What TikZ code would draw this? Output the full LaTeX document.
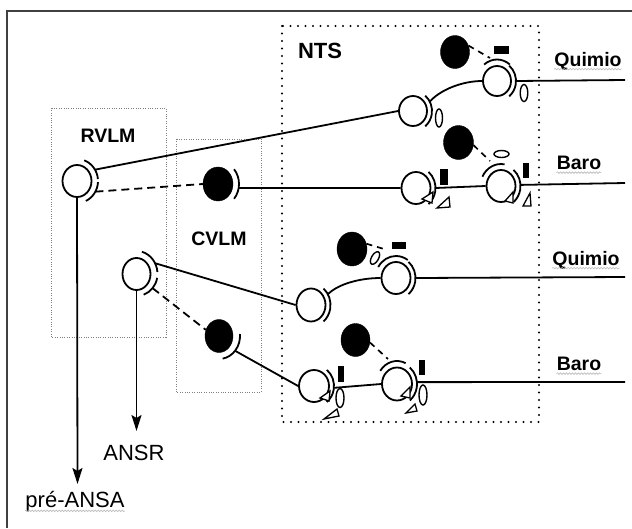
\documentclass[tikz,border=0pt]{standalone}
\usepackage{fontspec}
\setmainfont{Liberation Sans}
\usetikzlibrary{shapes.geometric,arrows.meta,decorations.pathmorphing}
\begin{document}
\begin{tikzpicture}[x=1pt,y=-1pt,
  ln/.style={line width=1.8pt},
  dln/.style={line width=1.8pt,dash pattern=on 8pt off 5pt},
  sdln/.style={line width=1.7pt,dash pattern=on 6pt off 5pt},
  openn/.style={ellipse,draw,line width=1.8pt,fill=white,inner sep=0pt},
  blackn/.style={ellipse,draw,fill=black,line width=0.4pt,inner sep=0pt},
  lbl/.style={font=\bfseries\fontsize{19.5}{22}\selectfont,inner sep=0pt},
  plbl/.style={font=\fontsize{22}{24}\selectfont,inner sep=0pt},
  gbox/.style={draw=gray,line width=0.8pt,dash pattern=on 1pt off 1.4pt},
  nbox/.style={draw=black,line width=2.2pt,line cap=round,dash pattern=on 0pt off 7.5pt},
  vesicle/.style={line width=1.4pt},
  recep/.style={fill=black},
  tri/.style={draw,line width=1.3pt,fill=white},
  wavy/.style={draw=gray!55,line width=0.6pt,decorate,decoration={snake,amplitude=0.8pt,segment length=3pt}},
  arr/.style={line width=1.8pt,-{Stealth[length=16pt,width=10pt,inset=3pt]}}
]
\useasboundingbox (0,0) rectangle (632,528);
% frame
\draw[line width=1.6pt,black!75] (7,528) -- (7,11) -- (632,11);
% region boxes
\draw[gbox] (51,108) rectangle (166,337);
\draw[gbox] (176,139) rectangle (261,392);
\draw[nbox] (282,26) rectangle (539,422);
% labels
\node[lbl] (lrvlm) at (108,136) {RVLM};
\node[lbl] (lcvlm) at (219,239) {CVLM};
\node[lbl,font=\bfseries\fontsize{22}{24}\selectfont] (lnts) at (320,51) {NTS};
\node[lbl] (lq1) at (588,61) {Quimio};
\node[lbl] (lb1) at (579,163) {Baro};
\node[lbl] (lq2) at (586,260) {Quimio};
\node[lbl] (lb2) at (579,364) {Baro};
\draw[wavy] ([yshift=-3pt]lq1.base west) -- ([yshift=-3pt]lq1.base east);
\draw[wavy] ([yshift=-3pt]lb1.base west) -- ([yshift=-3pt]lb1.base east);
\draw[wavy] ([yshift=-3pt]lq2.base west) -- ([yshift=-3pt]lq2.base east);
\draw[wavy] ([yshift=-3pt]lb2.base west) -- ([yshift=-3pt]lb2.base east);

% neurons
\node[openn,minimum width=29pt,minimum height=32pt] (R) at (77,181) {};
\node[openn,minimum width=28pt,minimum height=32pt] (K) at (136.5,274) {};
\node[blackn,minimum width=30pt,minimum height=34pt] (CB1) at (218,184) {};
\node[blackn,minimum width=28pt,minimum height=33pt] (CB2) at (219,336) {};
\node[openn,minimum width=28pt,minimum height=30pt] (A) at (413,111) {};
\node[openn,minimum width=28pt,minimum height=30pt] (B) at (497,81) {};
\node[blackn,minimum width=29pt,minimum height=33pt] (BN1) at (455,52) {};
\node[openn,minimum width=29pt,minimum height=32pt] (C) at (416,188) {};
\node[openn,minimum width=29pt,minimum height=32pt] (D) at (501,186) {};
\node[blackn,minimum width=30pt,minimum height=34pt] (BN2) at (458.5,142.5) {};
\node[openn,minimum width=29pt,minimum height=33pt] (E) at (311,305) {};
\node[openn,minimum width=29pt,minimum height=32pt] (F) at (396,278) {};
\node[blackn,minimum width=30pt,minimum height=34pt] (BN3) at (352,249) {};
\node[openn,minimum width=30pt,minimum height=32pt] (G) at (314,386) {};
\node[openn,minimum width=30pt,minimum height=33pt] (H) at (397,384) {};
\node[blackn,minimum width=29pt,minimum height=33pt] (BN4) at (355.5,340) {};

% synaptic arcs RVLM / CVLM
\draw[ln] ([shift={(-70:21 and 22)}]R.center) arc[start angle=-70,end angle=-5,x radius=21,y radius=22];
\draw[ln] ([shift={(3:21 and 22)}]R.center) arc[start angle=3,end angle=65,x radius=21,y radius=22];
\draw[ln] ([shift={(-75:21 and 23)}]K.center) arc[start angle=-75,end angle=-5,x radius=21,y radius=23];
\draw[ln] ([shift={(10:21 and 22)}]K.center) arc[start angle=10,end angle=70,x radius=21,y radius=22];
\draw[ln] ([shift={(-40:21 and 23)}]CB1.center) arc[start angle=-40,end angle=40,x radius=21,y radius=23];
\draw[ln] ([shift={(-5:21 and 23)}]CB2.center) arc[start angle=-5,end angle=80,x radius=21,y radius=23];
\coordinate (Ra) at ([shift={(-31:21 and 22)}]R.center);
\coordinate (Rb) at ([shift={(29:21 and 22)}]R.center);
\coordinate (Ka) at ([shift={(-28:21 and 23)}]K.center);
\coordinate (Kb) at ([shift={(40:21 and 22)}]K.center);
\coordinate (CB1a) at ([shift={(10:21 and 23)}]CB1.center);
\coordinate (CB2a) at ([shift={(40:21 and 23)}]CB2.center);

% arcs right of NTS neurons
\foreach \n/\rx/\ry in {A/19/20,B/19/20,C/19.5/21,D/19.5/21,E/19.5/21.5,F/19.5/21,G/20/21,H/20/21.5}{
  \draw[ln] ([shift={(-50:\rx\space and \ry)}]\n.center) arc[start angle=-50,end angle=50,x radius=\rx,y radius=\ry];
}
\coordinate (Aa) at ([shift={(-28:19 and 20)}]A.center);
\coordinate (Ba) at ([shift={(0:19 and 20)}]B.center);
\coordinate (Ca) at ([shift={(0:19.5 and 21)}]C.center);
\coordinate (Da) at ([shift={(-3:19.5 and 21)}]D.center);
\coordinate (Ea) at ([shift={(-30:19.5 and 21.5)}]E.center);
\coordinate (Fa) at ([shift={(0:19.5 and 21)}]F.center);
\coordinate (Ga) at ([shift={(5:20 and 21)}]G.center);
\coordinate (Ha) at ([shift={(-5:20 and 21.5)}]H.center);
\coordinate (Bo) at (625,80);
\coordinate (Do) at (625,183);
\coordinate (Fo) at (625,277);
\coordinate (Ho) at (625,382);

% top arcs
\draw[ln] ([shift={(-130:20 and 21.5)}]B.center) arc[start angle=-130,end angle=-50,x radius=20,y radius=21.5];
\draw[ln] ([shift={(-155:20.5 and 22)}]D.center) arc[start angle=-155,end angle=-80,x radius=20.5,y radius=22];
\draw[ln] ([shift={(-150:20.5 and 22)}]F.center) arc[start angle=-150,end angle=-55,x radius=20.5,y radius=22];
\draw[ln] ([shift={(-145:20.5 and 23)}]H.center) arc[start angle=-145,end angle=-65,x radius=20.5,y radius=23];

% connectors
\draw[ln] (Ra) -- (A.west);
\draw[dln] (Rb) -- (CB1.west);
\draw[ln] (CB1a) -- (C.west);
\draw[ln] (Ka) -- (E.west);
\draw[dln] (Kb) -- (CB2.155);
\draw[ln] (CB2a) -- (G.west);
\draw[ln] (Aa) .. controls (440,90) and (462,81) .. (B.west);
\draw[ln] (Ea) .. controls (338,284) and (360,278) .. (F.west);
\draw[ln] (Ca) -- (D.west);
\draw[ln] (Ga) -- (H.west);
\draw[ln] (Ba) -- (Bo);
\draw[ln] (Da) -- (Do);
\draw[ln] (Fa) -- (Fo);
\draw[ln] (Ha) -- (Ho);
\draw[sdln] (BN1.25) -- ([shift={(-7,-23)}]B.center);
\draw[sdln] (BN2.-10) -- ([shift={(-11,-25)}]D.center);
\draw[sdln] (BN3.20) -- ([shift={(-12,-29)}]F.center);
\draw[sdln] (BN4.-10) -- ([shift={(-9,-25)}]H.center);

% outputs
\coordinate (Rout) at (77.5,484);
\coordinate (Kout) at (136.5,431);
\draw[arr] (R.south) -- (Rout);
\draw[arr] (K.south) -- (Kout);
\node[plbl] (ansr) at (134,453) {ANSR};
\node[plbl] (pre) at (75,502) {pré-ANSA};
\draw[wavy] ([yshift=-3pt]pre.base west) -- ([yshift=-3pt]pre.base east);

% vesicles
\draw[vesicle] (439,118) ellipse[x radius=3.5,y radius=9];
\draw[vesicle] (524,93) ellipse[x radius=3.8,y radius=8.5];
\draw[vesicle] (501.5,154) ellipse[x radius=7.5,y radius=3.5];
\draw[vesicle,rotate around={-30:(375,258)}] (375,258) ellipse[x radius=3.5,y radius=7];
\draw[vesicle] (340,398) ellipse[x radius=4,y radius=9.5];
\draw[vesicle] (423,395) ellipse[x radius=4,y radius=10];

% receptors
\fill[recep] (493.5,46) rectangle (508.5,54);
\fill[recep] (440,168.5) rectangle (448,184.5);
\fill[recep] (523,163) rectangle (529,178);
\fill[recep] (391.5,241.5) rectangle (406,248.5);
\fill[recep] (337.5,366) rectangle (344,382);
\fill[recep] (418.5,360) rectangle (425,375);

% triangles
\draw[tri] (422,199) -- (433,192) -- (432,203) -- cycle;
\draw[tri] (437,208) -- (449,197) -- (450,207) -- cycle;
\draw[tri] (505,201) -- (513,192) -- (513,203) -- cycle;
\draw[tri] (523,206) -- (530,193) -- (531,206) -- cycle;
\draw[tri] (320,398) -- (330,391) -- (329,401) -- cycle;
\draw[tri] (324,419) -- (337,409) -- (339,416) -- cycle;
\draw[tri] (401,396) -- (410,387) -- (410,398) -- cycle;
\draw[tri] (406,413) -- (415,404) -- (417,411) -- cycle;
\end{tikzpicture}
\end{document}
